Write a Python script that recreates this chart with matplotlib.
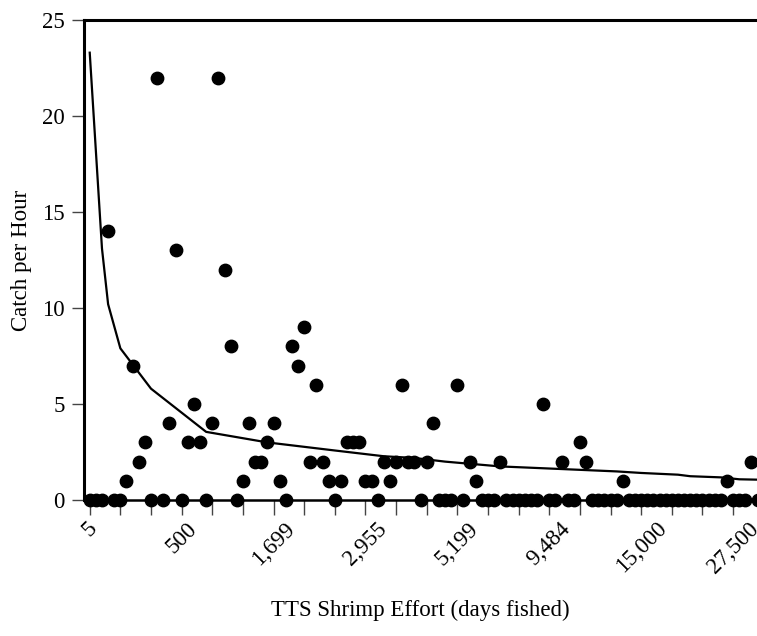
import matplotlib
matplotlib.use("Agg")
import matplotlib.pyplot as plt
from matplotlib.transforms import ScaledTranslation

plt.rcParams["font.family"] = ["Liberation Serif", "DejaVu Serif"]

# catch per hour for each tow, ordered by shrimp effort (position = rank)
catch = [0, 0, 0, 14, 0, 0, 1, 7, 2, 3,
         0, 22, 0, 4, 13, 0, 3, 5, 3, 0,
         4, 22, 12, 8, 0, 1, 4, 2, 2, 3,
         4, 1, 0, 8, 7, 9, 2, 6, 2, 1,
         0, 1, 3, 3, 3, 1, 1, 0, 2, 1,
         2, 6, 2, 2, 0, 2, 4, 0, 0, 0,
         6, 0, 2, 1, 0, 0, 0, 2, 0, 0,
         0, 0, 0, 0, 5, 0, 0, 2, 0, 0,
         3, 2, 0, 0, 0, 0, 0, 1, 0, 0,
         0, 0, 0, 0, 0, 0, 0, 0, 0, 0,
         0, 0, 0, 0, 1, 0, 0, 0, 2, 0]

# fitted catch curve, sampled at the same rank positions
fit_rank = [0, 2, 3, 5, 10, 19, 29, 40, 48, 53, 58, 67, 78, 86, 90, 96, 98, 103, 106, 109]
fit_catch = [23.3, 13.1, 10.2, 7.9, 5.8, 3.55, 3.0, 2.58, 2.28, 2.19, 2.0, 1.75,
             1.6, 1.49, 1.41, 1.32, 1.24, 1.18, 1.08, 1.06]

# effort labels shown under every third tick
effort_pos = [0, 15, 30, 45, 60, 75, 90, 105]
effort_labels = ["5", "500", "1,699", "2,955", "5,199", "9,484", "15,000", "27,500"]

fig = plt.figure(figsize=(7.57, 6.36), dpi=100)
ax = fig.add_axes([0.111, 0.2138, 0.889, 0.7547])

rank = list(range(len(catch)))
ax.scatter(rank, catch, s=80, color="black", zorder=3, clip_on=False)
ax.plot(fit_rank, fit_catch, color="black", lw=1.6, zorder=2)

ax.set_xlim(-0.93, 108.9)
ax.set_ylim(0, 25)

ticks = list(range(0, 110, 5))
labels = [effort_labels[effort_pos.index(t)] if t in effort_pos else "" for t in ticks]
ax.set_xticks(ticks)
ax.set_xticklabels(labels, rotation=45, ha="center", fontsize=16.5)
shift = ScaledTranslation(3 / 72, 0, fig.dpi_scale_trans)
for lbl in ax.get_xticklabels():
    lbl.set_transform(lbl.get_transform() + shift)
ax.set_yticks([0, 5, 10, 15, 20, 25])
ax.tick_params(axis="y", labelsize=16.5, length=9, width=1, color="#444444", pad=5)
ax.tick_params(axis="x", length=11, width=1, color="#444444", pad=2)

for side in ("left", "top"):
    ax.spines[side].set_linewidth(2.2)
ax.spines["bottom"].set_linewidth(1.8)
ax.spines["right"].set_visible(False)

ax.set_xlabel("TTS Shrimp Effort (days fished)", fontsize=16.5, labelpad=16)
ax.set_ylabel("Catch per Hour", fontsize=16.5, labelpad=7)

fig.savefig("out.png", dpi=100)
